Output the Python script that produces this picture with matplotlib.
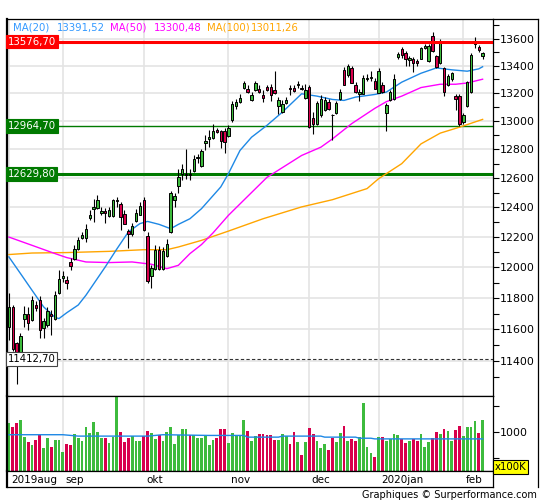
import matplotlib
matplotlib.use('Agg')
import matplotlib.pyplot as plt
from matplotlib.ticker import FixedLocator, NullFormatter, FixedFormatter
from matplotlib.lines import Line2D

# DAX daily candles, 13 aug 2019 .. 10 feb 2020
opens = [
    11615, 11743, 11514, 11443, 11664, 11700, 11657, 11755, 11790, 11609,
    11625, 11700, 11668, 11831, 11928, 11915, 12034, 12052, 12123, 12197,
    12197, 12331, 12389, 12396, 12364, 12375, 12341, 12341, 12443, 12420,
    12357, 12238, 12218, 12307, 12350, 12453, 12210, 11943, 11987, 12117,
    11991, 12072, 12234, 12452, 12545, 12626, 12619, 12630, 12646, 12738,
    12683, 12843, 12870, 12882, 12938, 12926, 12928, 12893, 13004, 13104,
    13135, 13238, 13231, 13152, 13219, 13230, 13183, 13245, 13245, 13219,
    13106, 13063, 13127, 13235, 13235, 13258, 13237, 13164, 13247, 13023,
    12976, 13040, 13075, 13135, 13046, 13055, 13157, 13368, 13328, 13383,
    13255, 13196, 13196, 13300, 13310, 13287, 13204, 13255, 13058, 13147,
    13159, 13461, 13520, 13495, 13440, 13445, 13432, 13450, 13530, 13437,
    13622, 13470, 13420, 13380, 13262, 13300, 13180, 13180, 12990, 13110,
    13207, 13560, 13540, 13470]
highs = [
    11831, 11755, 11520, 11578, 11751, 11742, 11813, 11779, 11811, 11670,
    11742, 11721, 11845, 11980, 11973, 11943, 12059, 12145, 12198, 12232,
    12285, 12380, 12460, 12486, 12402, 12393, 12402, 12460, 12470, 12436,
    12380, 12256, 12292, 12387, 12436, 12468, 12232, 12013, 12145, 12140,
    12132, 12190, 12510, 12495, 12665, 12700, 12803, 12665, 12757, 12770,
    12800, 12898, 12933, 12976, 12950, 12938, 12952, 12975, 13142, 13160,
    13190, 13290, 13260, 13210, 13290, 13255, 13219, 13262, 13267, 13357,
    13171, 13147, 13175, 13255, 13255, 13290, 13260, 13267, 13255, 13063,
    13145, 13183, 13170, 13160, 13050, 13145, 13230, 13390, 13415, 13395,
    13280, 13230, 13330, 13335, 13360, 13310, 13380, 13280, 13128, 13225,
    13340, 13500, 13540, 13505, 13470, 13465, 13450, 13540, 13560, 13560,
    13652, 13480, 13600, 13390, 13335, 13355, 13190, 13190, 13060, 13290,
    13490, 13610, 13550, 13500]
lows = [
    11530, 11465, 11255, 11430, 11615, 11597, 11650, 11714, 11543, 11543,
    11612, 11562, 11660, 11825, 11902, 11861, 11980, 12045, 12115, 12190,
    12165, 12312, 12298, 12390, 12346, 12292, 12335, 12335, 12402, 12250,
    12285, 12130, 12210, 12300, 12345, 12243, 11895, 11867, 11980, 11985,
    11985, 12065, 12230, 12400, 12498, 12584, 12596, 12590, 12640, 12705,
    12678, 12797, 12815, 12875, 12915, 12812, 12776, 12885, 12995, 13085,
    13125, 13230, 13200, 13145, 13212, 13200, 13135, 13215, 13140, 13195,
    13050, 13055, 13120, 13183, 13205, 13235, 13225, 13160, 12950, 12910,
    12970, 13030, 13070, 13075, 12862, 13050, 13150, 13255, 13320, 13270,
    13200, 13140, 13190, 13285, 13291, 13228, 13198, 13200, 12926, 13140,
    13150, 13450, 13455, 13400, 13400, 13355, 13395, 13445, 13520, 13430,
    13500, 13380, 13410, 13180, 13250, 13290, 13080, 12965, 12980, 13100,
    13200, 13530, 13500, 13450]
closes = [
    11743, 11478, 11413, 11558, 11700, 11637, 11790, 11738, 11593, 11651,
    11714, 11685, 11822, 11925, 11941, 11900, 12010, 12122, 12178, 12212,
    12257, 12346, 12402, 12452, 12373, 12362, 12380, 12447, 12452, 12335,
    12290, 12223, 12272, 12364, 12409, 12250, 11911, 11998, 12117, 11991,
    12110, 12151, 12500, 12474, 12607, 12660, 12630, 12618, 12734, 12746,
    12785, 12857, 12887, 12928, 12924, 12855, 12850, 12950, 13123, 13135,
    13168, 13275, 13207, 13183, 13272, 13211, 13164, 13221, 13187, 13203,
    13147, 13123, 13147, 13230, 13216, 13265, 13233, 13219, 12956, 12976,
    13128, 13160, 13152, 13082, 13040, 13128, 13208, 13262, 13400, 13276,
    13206, 13211, 13310, 13310, 13316, 13233, 13364, 13206, 13111, 13207,
    13303, 13486, 13475, 13452, 13456, 13420, 13418, 13526, 13548, 13548,
    13511, 13388, 13577, 13205, 13323, 13345, 13158, 12982, 13045, 13280,
    13478, 13575, 13513, 13494]
# volume in x100K
volumes = [
    1169, 1101, 1169, 1223, 899, 797, 743, 845, 932, 696,
    878, 716, 845, 845, 615, 763, 743, 966, 878, 817,
    1101, 986, 1189, 1000, 878, 878, 777, 899, 1696, 1000,
    797, 878, 912, 817, 817, 912, 1020, 980, 865, 932,
    817, 1000, 1088, 763, 932, 1054, 1047, 932, 932, 878,
    878, 932, 743, 845, 878, 1054, 1047, 777, 980, 919,
    919, 1237, 1014, 831, 919, 966, 966, 946, 932, 845,
    845, 953, 919, 763, 1000, 811, 561, 811, 1081, 953,
    817, 696, 763, 648, 878, 797, 980, 1122, 817, 865,
    817, 899, 1554, 716, 594, 513, 899, 899, 817, 865,
    953, 932, 865, 777, 831, 865, 817, 953, 716, 797,
    878, 1000, 953, 1054, 1020, 817, 1034, 1122, 919, 1101,
    1101, 1203, 980, 1237]

# moving averages (candle index, value)
ma20_x = [0, 3, 6, 9, 12, 13, 15, 18, 20, 25, 28, 31, 34, 36, 39, 42, 44, 47, 50, 55,
          57, 60, 63, 67, 71, 76, 80, 84, 87, 90, 95, 98, 102, 107, 111, 115, 119, 122, 123]
ma20_v = [12068, 11959, 11850, 11743, 11675, 11668, 11705, 11755, 11818, 12002, 12120,
          12234, 12290, 12305, 12285, 12256, 12285, 12323, 12391, 12539, 12631, 12792,
          12885, 12969, 13063, 13195, 13178, 13154, 13147, 13171, 13190, 13207, 13279,
          13344, 13383, 13369, 13359, 13376, 13391.52]
ma50_x = [0, 6, 12, 15, 20, 26, 32, 37, 41, 44, 47, 50, 53, 57, 62, 67, 76, 81, 84, 89,
          95, 98, 102, 107, 112, 116, 119, 123]
ma50_v = [12200, 12145, 12090, 12064, 12035, 12031, 12035, 12020, 11991, 12013, 12090,
          12150, 12228, 12346, 12475, 12605, 12757, 12815, 12873, 12981, 13090, 13138,
          13178, 13240, 13264, 13264, 13273, 13300.48]
ma100_x = [0, 6, 15, 26, 35, 41, 44, 50, 57, 66, 76, 84, 93, 96, 102, 107, 112, 117, 123]
ma100_v = [12084, 12094, 12097, 12105, 12116, 12116, 12134, 12178, 12240, 12323, 12403,
           12452, 12528, 12596, 12700, 12838, 12914, 12956, 13011.26]
vavg_x = [0, 14, 18, 36, 40, 52, 61, 62, 70, 71, 81, 82, 90, 91, 94, 95, 123]
vavg_v = [946, 946, 919, 919, 946, 932, 932, 899, 899, 919, 919, 899, 899, 878, 878, 865, 865]

months = ['2019aug', 'sep', 'okt', 'nov', 'dec', '2020jan', 'feb']
month_start = [0, 14, 35, 57, 78, 96, 118]

levels = [13576.70, 12964.70, 12629.80, 11412.70]
level_txt = ['13576,70', '12964,70', '12629,80', '11412,70']

legend = [('MA(20)', '13391,52', '#3399ff'), ('MA(50)', '13300,48', '#ff00ff'),
          ('MA(100)', '13011,26', '#ffa500')]

green = '#3dbb3d'
red = '#d8004c'
grid_c = '#e4e4e4'
fs = 7.3
plt.rcParams['font.family'] = 'DejaVu Sans'

W, H = 545, 500


def box(l, t, r, b):
    return [l / W, 1 - b / H, (r - l) / W, (b - t) / H]


fig = plt.figure(figsize=(W / 100, H / 100), dpi=100)
ax = fig.add_axes(box(7, 19, 493, 396))
axv = fig.add_axes(box(7, 396, 493, 471), sharex=ax)
axd = fig.add_axes(box(7, 471, 493, 487), sharex=ax)

n = len(closes)
up = [closes[i] >= opens[i] for i in range(n)]

# price panel
ax.set_yscale('log')
for i in range(n):
    ax.vlines(i, lows[i], highs[i], color='black', lw=0.8, zorder=3)
    ax.bar(i, abs(closes[i] - opens[i]), bottom=min(opens[i], closes[i]), width=0.62,
           color=green if up[i] else red, edgecolor='black', lw=0.7, zorder=4)

ax.plot(ma100_x, ma100_v, color='#ffa500', lw=1.0, zorder=2)
ax.plot(ma50_x, ma50_v, color='#ff00ff', lw=1.0, zorder=2)
ax.plot(ma20_x, ma20_v, color='#1e88e5', lw=1.0, zorder=2)

ax.axhline(levels[0], color='#ff0000', lw=2.2, zorder=5)
ax.axhline(levels[1], color='#007a00', lw=1.0, zorder=1)
ax.axhline(levels[2], color='#007a00', lw=2.2, zorder=1)
ax.axhline(levels[3], color='#333333', lw=0.8, ls=(0, (3, 2)), zorder=1)

styles = [('#ff0000', 'white', '#ff0000'), ('#007a00', 'white', '#007a00'),
          ('#007a00', 'white', '#007a00'), ('white', 'black', '#444444')]
for lev, t, (fc, tc, ec) in zip(levels, level_txt, styles):
    ax.text(-0.35, lev, t, color=tc, fontsize=fs, va='center', ha='left', zorder=6,
            bbox=dict(boxstyle='square,pad=0.18', fc=fc, ec=ec, lw=0.8))

ax.set_xlim(-0.5, 125.7)
ax.set_ylim(11184, 13746)
major = list(range(11400, 13601, 200))
minor = list(range(11300, 13701, 100))
ax.yaxis.tick_right()
ax.yaxis.set_major_locator(FixedLocator(major))
ax.yaxis.set_major_formatter(FixedFormatter([str(v) for v in major]))
ax.yaxis.set_minor_locator(FixedLocator(minor))
ax.yaxis.set_minor_formatter(NullFormatter())
ax.tick_params(axis='y', which='both', direction='out', length=4, width=0.8,
               labelsize=fs + 0.6, pad=1)
ax.set_xticks(month_start)
ax.tick_params(axis='x', length=0, labelbottom=False)
ax.grid(True, which='major', color=grid_c, lw=1.2)
ax.set_axisbelow(True)

x0 = 13
for name, val, col in legend:
    fig.text(x0 / W, 1 - 28 / H, name, color=col, fontsize=fs, va='center')
    fig.text((x0 + 44) / W, 1 - 28 / H, val, color=col, fontsize=fs, va='center')
    x0 += 97

# volume panel
axv.bar(range(n), volumes, width=0.72, color=[green if u else red for u in up], lw=0)
axv.plot(vavg_x, vavg_v, color='#1e88e5', lw=1.0)
axv.set_ylim(243, 1696)
axv.yaxis.tick_right()
axv.set_yticks([500, 1000, 1500])
axv.set_yticklabels(['', '1000', ''])
axv.tick_params(axis='y', direction='out', length=4, width=0.8, labelsize=fs + 0.6, pad=1)
axv.tick_params(axis='x', length=0, labelbottom=False)
axv.grid(True, axis='x', color=grid_c, lw=1.2)
axv.set_axisbelow(True)

# date strip
axd.set_ylim(0, 1)
axd.set_yticks([])
axd.tick_params(axis='x', length=0, labelbottom=False)
for m, s in zip(months, month_start):
    axd.text(s + 0.6, 0.45, m, fontsize=fs + 0.2, va='center', ha='left')

for a in (ax, axv, axd):
    for sp in a.spines.values():
        sp.set_linewidth(0.9)
    a.spines['left'].set_linewidth(1.6)

fig.text(495 / W, 1 - 467 / H, 'x100K', fontsize=fs, va='center', ha='left',
         bbox=dict(boxstyle='square,pad=0.15', fc='#ffff00', ec='black', lw=0.8))

fig.add_artist(Line2D([493 / W, 538 / W], [1 - 19 / H, 1 - 19 / H], color='black', lw=0.9))
fig.add_artist(Line2D([538 / W, 538 / W], [1 - 19 / H, 1 - 487 / H], color='black', lw=0.9))

fig.text(537 / W, 1 - 495 / H, 'Graphiques \u00a9 Surperformance.com', fontsize=7,
         ha='right', va='center')

fig.savefig('out.png', dpi=100)
